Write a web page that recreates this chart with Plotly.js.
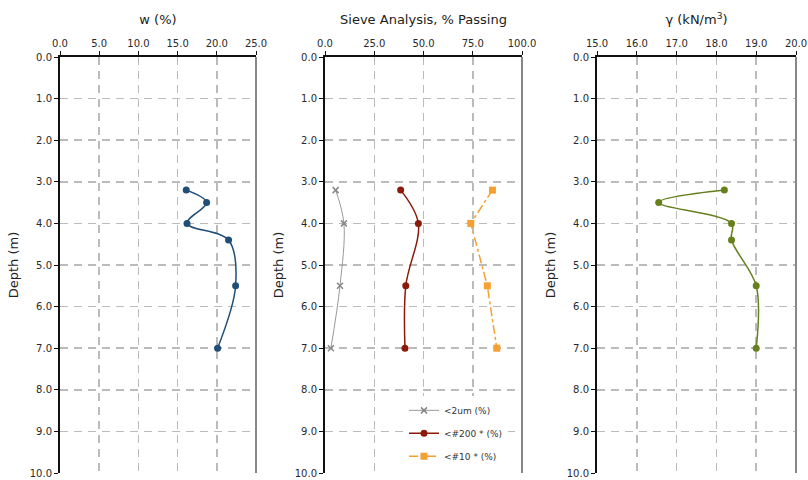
<!DOCTYPE html>
<html>
<head>
<meta charset="utf-8">
<script src="https://cdn.plot.ly/plotly-3.0.1.min.js"></script>
<style>html,body{margin:0;padding:0;background:#fff;}#chart{width:808px;height:480px;}</style>
</head>
<body>
<div id="chart"></div>
<script>
// Depths (m)
const depthW = [3.2, 3.5, 4.0, 4.4, 5.5, 7.0];
const moisture = [16.1, 18.7, 16.2, 21.5, 22.4, 20.1];

const depthSieve = [3.2, 4.0, 5.5, 7.0];
const clay2um = [5.4, 9.6, 7.6, 3.0];
const pass200 = [38.4, 47.4, 41.0, 40.6];
const pass10 = [85.0, 74.0, 82.4, 87.2];

const depthG = [3.2, 3.5, 4.0, 4.4, 5.5, 7.0];
const unitWeight = [18.2, 16.55, 18.38, 18.38, 19.0, 19.0];

const seriesNames = ['&lt;2um (%)', '&lt;#200 * (%)', '&lt;#10 * (%)'];
const panelTitles = ['w (%)', 'Sieve Analysis, % Passing', 'γ (kN/m<sup>3</sup>)'];
const depthTitle = 'Depth (m)';

const FONT = 'DejaVu Sans, Verdana, sans-serif';
const tickFont = {family: FONT, size: 10, color: '#2a2a2a'};

const traces = [
  {x: moisture, y: depthW, xaxis: 'x', yaxis: 'y', mode: 'lines+markers', showlegend: false,
   line: {color: '#1F4E79', width: 1.5, shape: 'spline'}, marker: {color: '#1F4E79', size: 7}},
  {x: clay2um, y: depthSieve, xaxis: 'x2', yaxis: 'y2', mode: 'lines+markers', name: seriesNames[0], legendgroup: 'a',
   line: {color: '#999999', width: 1, shape: 'spline'}, marker: {color: '#888888', size: 6, symbol: 'x-thin', line: {color: '#888888', width: 1.5}}},
  {x: pass200, y: depthSieve, xaxis: 'x2', yaxis: 'y2', mode: 'lines+markers', name: seriesNames[1], legendgroup: 'b',
   line: {color: '#8B1A0A', width: 1.5, shape: 'spline'}, marker: {color: '#8B1A0A', size: 7}},
  {x: pass10, y: depthSieve, xaxis: 'x2', yaxis: 'y2', mode: 'lines+markers', name: seriesNames[2], legendgroup: 'c',
   line: {color: '#F5A030', width: 1.5, dash: 'dashdot'}, marker: {color: '#F5A030', size: 7, symbol: 'square'}},
  {x: unitWeight, y: depthG, xaxis: 'x3', yaxis: 'y3', mode: 'lines+markers', showlegend: false,
   line: {color: '#66801E', width: 1.5, shape: 'spline'}, marker: {color: '#66801E', size: 7}}
];

const W = 808;
const doms = [[60 / W, 256 / W], [325 / W, 522 / W], [597 / W, 796 / W]];
const ranges = [[0, 25], [0, 100], [15, 20]];
const dticks = [5, 25, 1];

const layout = {
  width: 808, height: 480,
  margin: {l: 0, r: 0, t: 57, b: 7},
  paper_bgcolor: '#fff', plot_bgcolor: '#fff',
  font: {family: FONT, color: '#333'},
  legend: {x: 404 / W, y: 1 - 391 / 480, xanchor: 'left', yanchor: 'top', bgcolor: '#fff',
           font: {family: FONT, size: 9, color: '#333'}, traceorder: 'grouped', tracegroupgap: 4, itemwidth: 30},
  shapes: []
};

for (let i = 0; i < 3; i++) {
  const xs = i === 0 ? 'xaxis' : 'xaxis' + (i + 1);
  const ys = i === 0 ? 'yaxis' : 'yaxis' + (i + 1);
  const yid = i === 0 ? 'y' : 'y' + (i + 1);
  const xid = i === 0 ? 'x' : 'x' + (i + 1);
  layout[xs] = {
    domain: doms[i], anchor: yid, side: 'top', range: ranges[i], dtick: dticks[i], tick0: ranges[i][0],
    tickformat: '.1f', showline: true, linecolor: '#111', linewidth: 2, ticklabeloverflow: 'allow',
    ticks: 'outside', ticklen: 4, tickcolor: '#111', tickfont: tickFont,
    showgrid: true, gridcolor: '#bbbbbb', gridwidth: 1.5, griddash: '8px,6px', zeroline: false,
    title: {text: panelTitles[i], font: {family: FONT, size: 13, color: '#222'}, standoff: 10}
  };
  layout[ys] = {
    domain: [0, 1], anchor: xid, range: [10, 0], dtick: 1, tick0: 0, tickformat: '.1f',
    showline: true, linecolor: '#111', linewidth: 2, ticklabeloverflow: 'allow',
    ticks: 'outside', ticklen: 4, tickcolor: '#111', tickfont: tickFont,
    showgrid: true, gridcolor: '#bbbbbb', gridwidth: 1.5, griddash: '8px,6px', zeroline: false,
    title: {text: depthTitle, font: {family: FONT, size: 13, color: '#222'}, standoff: 8}
  };
  layout.shapes.push({type: 'line', xref: xid + ' domain', yref: yid + ' domain', x0: 1, x1: 1, y0: 0, y1: 1,
    line: {color: '#888', width: 2}});
}

Plotly.newPlot('chart', traces, layout, {displayModeBar: false, staticPlot: true});
</script>
</body>
</html>
